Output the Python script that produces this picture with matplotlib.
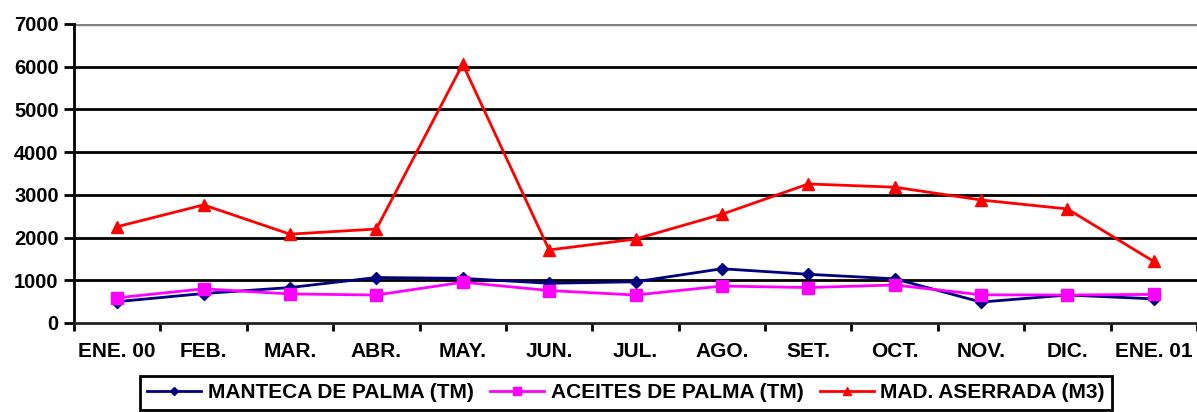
import matplotlib
matplotlib.use("Agg")
import matplotlib.pyplot as plt
import numpy as np

categories = ["ENE. 00", "FEB.", "MAR.", "ABR.", "MAY.", "JUN.", "JUL.", "AGO.",
              "SET.", "OCT.", "NOV.", "DIC.", "ENE. 01"]
manteca = [500, 690, 830, 1065, 1045, 930, 965, 1270, 1140, 1035, 490, 655, 565]
aceites = [590, 800, 680, 655, 955, 760, 655, 865, 830, 890, 660, 655, 670]
madera = [2255, 2765, 2080, 2200, 6060, 1710, 1965, 2545, 3255, 3180, 2880, 2670, 1440]
series_labels = ["MANTECA DE PALMA (TM)", "ACEITES DE PALMA (TM)", "MAD. ASERRADA (M3)"]
yticks = [0, 1000, 2000, 3000, 4000, 5000, 6000, 7000]

plt.rcParams['font.family'] = ['Liberation Sans', 'DejaVu Sans']
plt.rcParams['font.weight'] = 'bold'

fig = plt.figure(figsize=(11.97, 4.12), dpi=100)
ax = fig.add_axes([74/1197, 1 - 323/412, (1197 - 74)/1197, (323 - 24)/412])

x = np.arange(len(categories))
ax.plot(x, manteca, color="#000080", lw=2, marker="D", ms=6.5, label=series_labels[0], zorder=3)
ax.plot(x, aceites, color="#FF00FF", lw=2, marker="s", ms=8.5, label=series_labels[1], zorder=4)
ax.plot(x, madera, color="#FF0000", lw=2, marker="^", ms=9, label=series_labels[2], zorder=5)

ax.set_xlim(-0.5, len(categories) - 0.5)
ax.set_ylim(0, 7000)
ax.set_yticks(yticks)
ax.set_yticklabels([str(v) for v in yticks], fontsize=14.5, fontweight='bold')
ax.set_xticks(x)
ax.set_xticklabels(categories, fontsize=15, fontweight='bold')
ax.set_xticks(np.arange(-0.5, len(categories), 1.0), minor=True)
ax.tick_params(axis='x', which='major', length=0, pad=14)
ax.tick_params(axis='x', which='minor', length=6, width=2, direction='out', color='black')
ax.tick_params(axis='y', length=7, width=2, direction='out', pad=4)

for v in yticks[1:-1]:
    ax.axhline(v, color='black', lw=2, zorder=1)
ax.axhline(7000, color='#808080', lw=2.5, zorder=1)

for s in ['top', 'right']:
    ax.spines[s].set_visible(False)
ax.spines['left'].set_linewidth(2)
ax.spines['bottom'].set_linewidth(2)
ax.spines['bottom'].set_color('#222222')

leg = fig.legend(loc='upper left', bbox_to_anchor=(140/1197, 1 - 376/412), ncol=3,
                 frameon=True, fancybox=False, edgecolor='black', framealpha=1,
                 prop={'size': 15, 'weight': 'bold'}, handlelength=2.6,
                 handletextpad=0.3, columnspacing=0.8, borderpad=0.35,
                 markerscale=0.7, borderaxespad=0)
leg.get_frame().set_linewidth(2)

fig.savefig("out.png", dpi=100)
